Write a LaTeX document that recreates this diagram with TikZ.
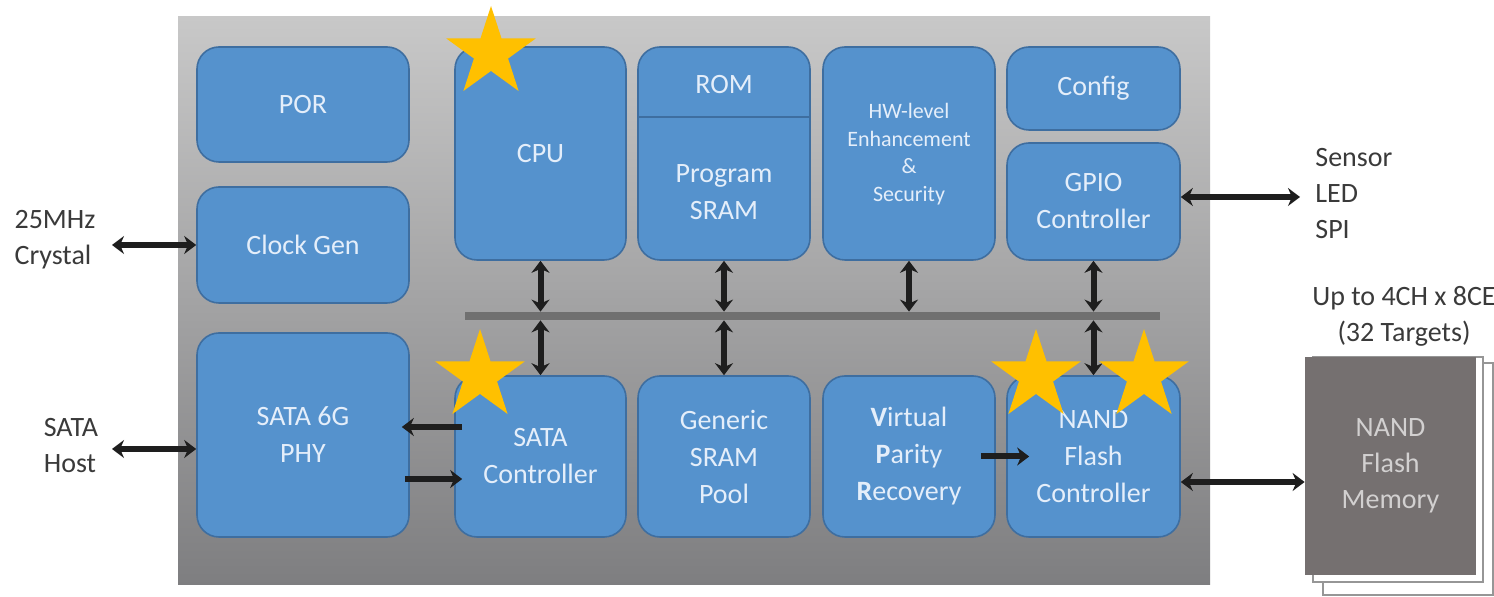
\documentclass[tikz,border=0pt]{standalone}
\usepackage{fontspec}
\setmainfont{Carlito}
\usetikzlibrary{arrows.meta,shapes.geometric}
\definecolor{blkfill}{RGB}{85,146,205}
\definecolor{blkedge}{RGB}{62,110,160}
\definecolor{blktext}{RGB}{228,238,250}
\definecolor{panelTop}{RGB}{200,200,200}
\definecolor{panelMid}{RGB}{182,182,182}
\definecolor{panelBot}{RGB}{126,126,128}
\definecolor{busgray}{RGB}{112,112,112}
\definecolor{arrowink}{RGB}{30,30,30}
\definecolor{labelink}{RGB}{58,58,58}
\definecolor{memfill}{RGB}{117,112,112}
\definecolor{memedge}{RGB}{150,150,150}
\definecolor{memtext}{RGB}{210,208,208}
\definecolor{stargold}{RGB}{255,192,0}
\begin{document}
\begin{tikzpicture}[x=0.5pt,y=-0.5pt,
  blk/.style={draw=blkedge, line width=0.8pt, fill=blkfill, rounded corners=11pt,
    text=blktext, align=center, inner sep=0pt,
    font=\fontsize{14}{18.5}\selectfont},
  blktxt/.style={text=blktext, align=center, inner sep=0pt,
    font=\fontsize{14}{18.5}\selectfont},
  smalltxt/.style={text=blktext, align=center, inner sep=0pt,
    font=\fontsize{11}{13.75}\selectfont},
  outlabel/.style={text=labelink, inner sep=0pt,
    font=\fontsize{14}{18}\selectfont},
  dblarrow/.style={draw=arrowink, line width=3pt,
    {Stealth[length=6pt,width=9pt]}-{Stealth[length=6pt,width=9pt]}},
  onearrow/.style={draw=arrowink, line width=3pt,
    -{Stealth[length=6pt,width=9pt]}},
  goldstar/.style={star, star points=5, star point ratio=2.618, fill=stargold,
    draw=none, inner sep=0pt, minimum size=47pt}
]
\useasboundingbox (0,0) rectangle (1494,597);

% chip outline with its grey gradient
\fill[top color=panelTop, middle color=panelMid, bottom color=panelBot]
  (178,17) rectangle (1210,585);

% left column
\node[blk, minimum width=106pt, minimum height=57.5pt] (por) at (303,104.5) {POR};
\node[blk, minimum width=106pt, minimum height=58pt] (clk) at (303,245) {Clock Gen};
\node[blk, minimum width=106pt, minimum height=102pt] (phy) at (303,435) {SATA 6G\\PHY};

% upper row
\node[blk, minimum width=85.5pt, minimum height=106.5pt] (cpu) at (540.5,153.5) {CPU};
\node[blk, minimum width=86pt, minimum height=106.5pt] (mem1) at (724,153.5) {};
\draw[blkedge, line width=0.8pt] (mem1.west |- 0,117) -- (mem1.east |- 0,117);
\node[blktxt] (rom) at (724,85) {ROM};
\node[blktxt] (psram) at (724,192) {Program\\SRAM};
\node[blk, minimum width=86pt, minimum height=106.5pt] (hw) at (909,153.5) {};
\node[smalltxt] (hwtxt) at (909,154) {HW-level\\Enhancement\\\&\\Security};
\node[blk, minimum width=86.5pt, minimum height=41.5pt] (cfg) at (1093.5,88.5) {Config};
\node[blk, minimum width=86.5pt, minimum height=58.5pt] (gpio) at (1093.5,201.5) {GPIO\\Controller};

% internal bus
\node[fill=busgray, minimum width=347.5pt, minimum height=4pt, inner sep=0pt] (bus) at (812.5,316) {};

% lower row
\node[blk, minimum width=85.5pt, minimum height=80.5pt] (satac) at (540.5,456.5) {SATA\\Controller};
\node[blk, minimum width=86pt, minimum height=80.5pt] (gsram) at (724,456.5) {Generic\\SRAM\\Pool};
\node[blk, minimum width=86pt, minimum height=80.5pt] (vpr) at (909,456.5)
  {\textbf{V}irtual\\\textbf{P}arity\\\textbf{R}ecovery};
\node[blk, minimum width=86.5pt, minimum height=80.5pt] (nandc) at (1093.5,456.5) {NAND\\Flash\\Controller};

% NAND flash memory stack
\draw[memedge, fill=white, line width=0.6pt] (1323,363) rectangle (1493,595);
\draw[memedge, fill=white, line width=0.6pt] (1313,357) rectangle (1483,582);
\node[fill=memfill, minimum width=85.5pt, minimum height=109pt, inner sep=0pt,
  text=memtext, align=center, font=\fontsize{14}{18}\selectfont] (mem) at (1390.5,466)
  {NAND\\Flash\\Memory};
\node[outlabel, align=center] (targets) at (1404,316) {Up to 4CH x 8CE\\(32 Targets)};

% outside labels
\node[outlabel, align=left] (xtal) at (55,240) {25MHz\\Crystal};
\node[outlabel, align=left] (host) at (71,446) {SATA\\Host};
\node[outlabel, align=left, anchor=west] (io) at (1315,194) {Sensor\\LED\\SPI};
\coordinate (xtalend) at (112,245);
\coordinate (hostend) at (112,449);
\coordinate (ioend) at (1300,197);

% bus connections
\draw[dblarrow] (cpu.south) -- (cpu.south |- bus.north);
\draw[dblarrow] (mem1.south) -- (mem1.south |- bus.north);
\draw[dblarrow] (hw.south) -- (hw.south |- bus.north);
\draw[dblarrow] (gpio.south) -- (gpio.south |- bus.north);
\draw[dblarrow] (satac.north) -- (satac.north |- bus.south);
\draw[dblarrow] (gsram.north) -- (gsram.north |- bus.south);
\draw[dblarrow] (nandc.north) -- (nandc.north |- bus.south);

% external connections
\draw[dblarrow] (clk.west) -- (clk.west -| xtalend);
\draw[dblarrow] (phy.west |- hostend) -- (hostend);
\draw[dblarrow] (gpio.east |- ioend) -- (ioend);
\coordinate (nf) at ([yshift=-12.75pt]nandc.east);
\draw[dblarrow] (nf) -- (nf -| mem.west);

% PHY <-> SATA controller, VPR -> NAND controller
\draw[onearrow] ([xshift=4pt,yshift=14.75pt]satac.west) -- ([xshift=-4pt,yshift=4pt]phy.east);
\draw[onearrow] ([xshift=-2.5pt,yshift=-22pt]phy.east) -- ([xshift=4pt,yshift=-11.25pt]satac.west);
\draw[onearrow] ([xshift=-7.5pt]vpr.east) -- ([xshift=11.5pt]nandc.west);

% highlight stars
\node[goldstar] (star1) at (491,53) {};
\node[goldstar] (star2) at (480,376) {};
\node[goldstar] (star3) at (1036,376) {};
\node[goldstar] (star4) at (1144,376) {};
\end{tikzpicture}
\end{document}
